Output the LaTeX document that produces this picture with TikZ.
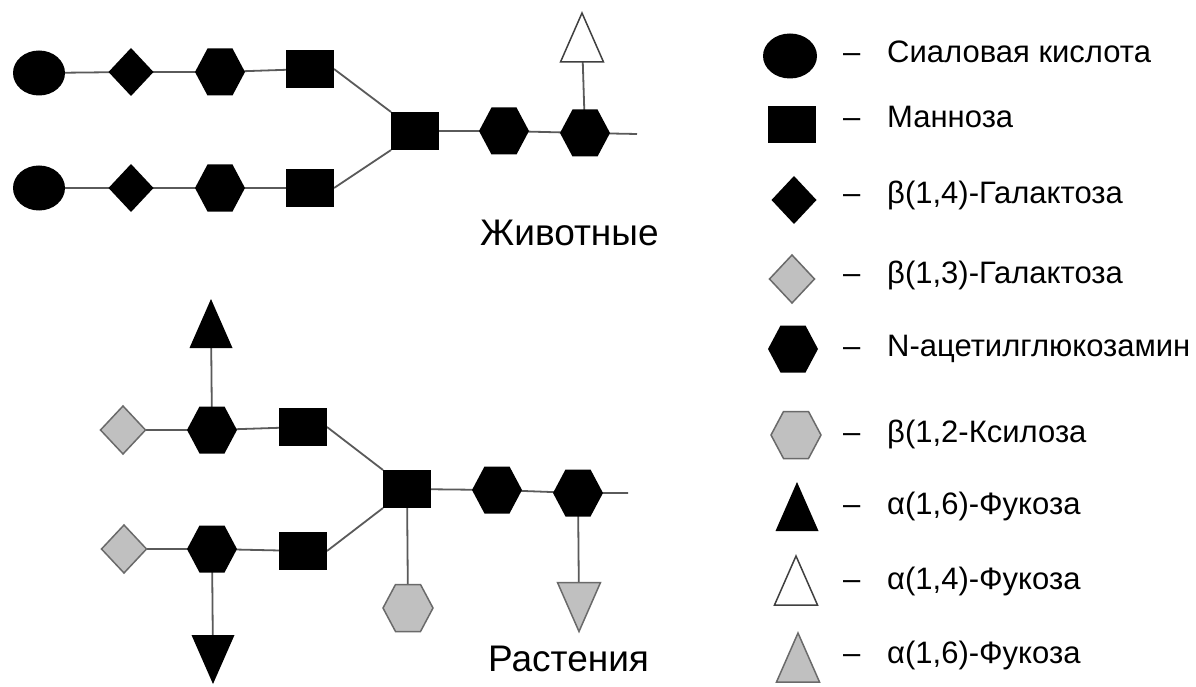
\documentclass[tikz,border=0pt]{standalone}
\usepackage{fontspec}
\setmainfont{Liberation Sans}
\usetikzlibrary{shapes.geometric,backgrounds}
\definecolor{linegray}{HTML}{5A5A5A}
\definecolor{symgray}{HTML}{C0C0C0}
\definecolor{edgegray}{HTML}{6A6A6A}
\definecolor{darkedge}{HTML}{404040}
\newcommand\hexpath[1]{\path[#1] ([xshift=-25pt]path picture bounding box.center) -- ++(12.5pt,23.5pt) -- ++(25pt,0pt) -- ++(12.5pt,-23.5pt) -- ++(-12.5pt,-23.5pt) -- ++(-25pt,0pt) -- cycle;}
\newcommand\diapath[1]{\path[#1] ([xshift=-22.5pt]path picture bounding box.center) -- ++(22.5pt,24pt) -- ++(22.5pt,-24pt) -- ++(-22.5pt,-24pt) -- cycle;}
\newcommand\tupath[1]{\path[#1] ([yshift=24.5pt]path picture bounding box.center) -- ++(21.5pt,-49pt) -- ++(-43pt,0pt) -- cycle;}
\newcommand\tdpath[1]{\path[#1] ([yshift=-24.5pt]path picture bounding box.center) -- ++(21.5pt,49pt) -- ++(-43pt,0pt) -- cycle;}
\tikzset{
  conn/.style={draw=linegray, line width=1.8pt},
  sym/.style={inner sep=0pt, outer sep=0pt, minimum width=56pt, minimum height=54pt},
  hexn/.style={sym, path picture={\hexpath{#1}}},
  dian/.style={sym, path picture={\diapath{#1}}},
  tupn/.style={sym, path picture={\tupath{#1}}},
  tdnn/.style={sym, path picture={\tdpath{#1}}},
  sqn/.style={rectangle, inner sep=0pt, outer sep=0pt, fill=black, minimum width=48pt, minimum height=38pt},
  eln/.style={ellipse, inner sep=0pt, outer sep=0pt, fill=black, minimum width=52pt, minimum height=45pt},
  blk/.style={fill=black},
  gry/.style={fill=symgray, draw=edgegray, line width=1.5pt},
  wht/.style={fill=white, draw=darkedge, line width=1.5pt},
  legtext/.style={anchor=base west, inner sep=0pt, font=\fontsize{31}{37}\selectfont},
  bigtext/.style={anchor=base west, inner sep=0pt, font=\fontsize{37}{44}\selectfont},
}
\begin{document}
\begin{tikzpicture}[x=1pt,y=-1pt]
\useasboundingbox (0,0) rectangle (1196,687);
% ---------- Animals ----------
\node[eln] (ac1) at (39,73) {};
\node[dian=blk] (ad1) at (131,72) {};
\node[hexn=blk] (ah1) at (220,72) {};
\node[sqn] (as1) at (310,69) {};
\node[eln] (ac2) at (39,188) {};
\node[dian=blk] (ad2) at (131,188) {};
\node[hexn=blk] (ah2) at (220,188) {};
\node[sqn] (as2) at (310,188) {};
\node[sqn] (am) at (415,131) {};
\node[hexn=blk] (ah3) at (504,131) {};
\node[hexn=blk] (ah4) at (585,133) {};
\coordinate (aend) at (637,134);
\node[tupn=wht] (at) at (582,37.5) {};
\node[bigtext] (alabel) at (480,245) {Животные};
% ---------- Plants ----------
\node[tupn=blk] (pt1) at (211,323.5) {};
\node[dian=gry] (pd1) at (123,430) {};
\node[hexn=blk] (ph1) at (212,430) {};
\node[sqn] (ps1) at (303,427) {};
\node[dian=gry] (pd2) at (124,549) {};
\node[hexn=blk] (ph2) at (212,549) {};
\node[sqn] (ps2) at (303,551) {};
\node[tdnn=blk] (pt2) at (213,659.5) {};
\node[sqn] (pm) at (407,489) {};
\node[hexn=blk] (ph3) at (497,490) {};
\node[hexn=blk] (ph4) at (578,493) {};
\coordinate (pend) at (628,493);
\node[hexn=gry] (pgh) at (408,608) {};
\node[tdnn=gry] (pgt) at (579,607) {};
\node[bigtext] (plabel) at (488,671) {Растения};
% ---------- Legend ----------
\node[eln, minimum width=54pt] (l1) at (790,56) {};
\node[sqn, minimum height=37pt] (l2) at (792,125) {};
\node[dian=blk] (l3) at (794,200) {};
\node[dian=gry] (l4) at (792,279) {};
\node[hexn=blk] (l5) at (793,349) {};
\node[hexn=gry] (l6) at (796,435) {};
\node[tupn=blk] (l7) at (797,506.5) {};
\node[tupn=wht] (l8) at (796,580.5) {};
\node[tupn=gry] (l9) at (798,657.5) {};
\node[legtext] (t1) at (843,63) {\makebox[44pt][l]{–}Сиаловая кислота};
\node[legtext] (t2) at (843,128) {\makebox[44pt][l]{–}Манноза};
\node[legtext] (t3) at (843,204) {\makebox[44pt][l]{–}β(1,4)-Галактоза};
\node[legtext] (t4) at (843,283) {\makebox[44pt][l]{–}β(1,3)-Галактоза};
\node[legtext] (t5) at (843,356) {\makebox[44pt][l]{–}N-ацетилглюкозамин};
\node[legtext] (t6) at (843,442) {\makebox[44pt][l]{–}β(1,2-Ксилоза};
\node[legtext] (t7) at (843,514) {\makebox[44pt][l]{–}α(1,6)-Фукоза};
\node[legtext] (t8) at (843,589) {\makebox[44pt][l]{–}α(1,4)-Фукоза};
\node[legtext] (t9) at (843,663) {\makebox[44pt][l]{–}α(1,6)-Фукоза};
% ---------- Connectors ----------
\begin{pgfonlayer}{background}
\fill[white] (0,0) rectangle (1196,687);
\draw[conn] (ac1.center) -- (ad1.center) -- (ah1.center) -- (as1.center);
\draw[conn] (ac2.center) -- (ad2.center) -- (ah2.center) -- (as2.center);
\draw[conn] (as1.east) -- (am.north west);
\draw[conn] (as2.east) -- (am.south west);
\draw[conn] (am.center) -- (ah3.center) -- (ah4.center) -- (aend);
\draw[conn] (at.center) -- (ah4.center);
\draw[conn] (pd1.center) -- (ph1.center) -- (ps1.center);
\draw[conn] (pd2.center) -- (ph2.center) -- (ps2.center);
\draw[conn] (pt1.center) -- (ph1.center);
\draw[conn] (ph2.center) -- (pt2.center);
\draw[conn] (ps1.east) -- (pm.north west);
\draw[conn] (ps2.east) -- (pm.south west);
\draw[conn] (pm.center) -- (ph3.center) -- (ph4.center) -- (pend);
\draw[conn] (pm.center) -- (pgh.center);
\draw[conn] (ph4.center) -- (pgt.center);
\end{pgfonlayer}
\end{tikzpicture}
\end{document}
